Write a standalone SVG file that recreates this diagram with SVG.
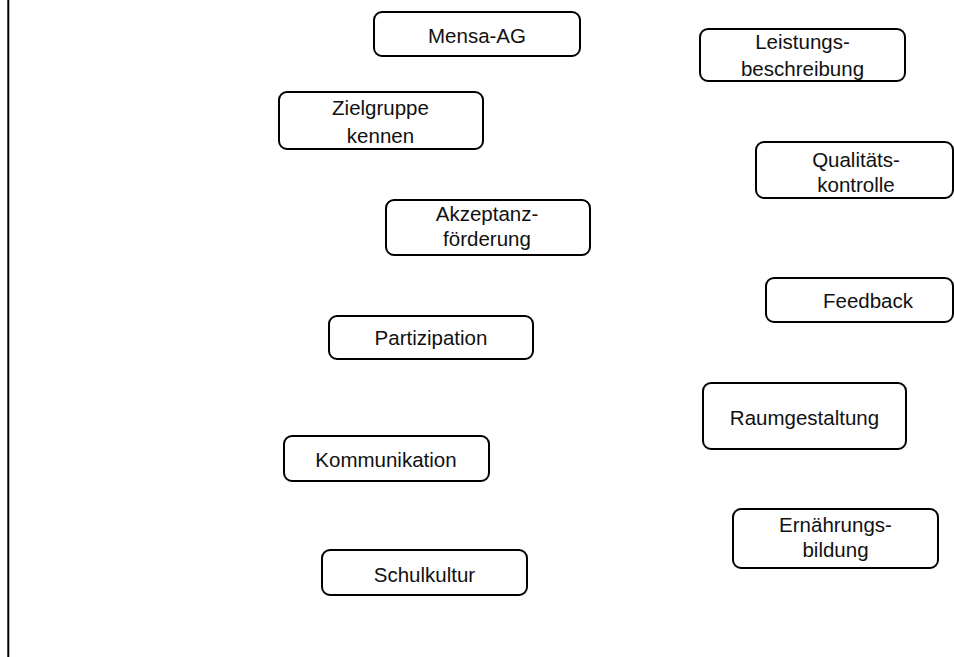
<svg xmlns="http://www.w3.org/2000/svg" width="954" height="657" viewBox="0 0 954 657">
<style>
.box{fill:#fff;stroke:#000;stroke-width:2}
.t{font-family:"Liberation Sans",Arial,sans-serif;font-size:20.5px;fill:#111;text-anchor:middle}
</style>
<rect width="954" height="657" fill="#fff"/>
<line x1="8.3" y1="0" x2="8.3" y2="657" stroke="#000" stroke-width="2"/>
<g id="connectors"></g>
<g id="mensa-ag"><rect class="box" x="374" y="12" width="206" height="44" rx="8"/><text class="t" x="477" y="43">Mensa-AG</text></g>
<g id="leistungsbeschreibung"><rect class="box" x="700" y="29" width="205" height="52" rx="8"/><text class="t" x="802.5" y="49">Leistungs-</text><text class="t" x="802.5" y="76">beschreibung</text></g>
<g id="zielgruppe"><rect class="box" x="279" y="92" width="204" height="57" rx="8"/><text class="t" x="380.5" y="115">Zielgruppe</text><text class="t" x="380.5" y="143">kennen</text></g>
<g id="qualitaetskontrolle"><rect class="box" x="756" y="142" width="197" height="56" rx="8"/><text class="t" x="856" y="167">Qualitäts-</text><text class="t" x="856" y="192">kontrolle</text></g>
<g id="akzeptanz"><rect class="box" x="386" y="200" width="204" height="55" rx="8"/><text class="t" x="487" y="221">Akzeptanz-</text><text class="t" x="487" y="246">förderung</text></g>
<g id="feedback"><rect class="box" x="766" y="278" width="187" height="44" rx="8"/><text class="t" x="868" y="308">Feedback</text></g>
<g id="partizipation"><rect class="box" x="329" y="316" width="204" height="43" rx="8"/><text class="t" x="431" y="345">Partizipation</text></g>
<g id="raumgestaltung"><rect class="box" x="703" y="383" width="203" height="66" rx="8"/><text class="t" x="804.5" y="425">Raumgestaltung</text></g>
<g id="kommunikation"><rect class="box" x="284" y="436" width="205" height="45" rx="8"/><text class="t" x="386" y="467">Kommunikation</text></g>
<g id="ernaehrungsbildung"><rect class="box" x="733" y="509" width="205" height="59" rx="8"/><text class="t" x="835.5" y="532">Ernährungs-</text><text class="t" x="835.5" y="557">bildung</text></g>
<g id="schulkultur"><rect class="box" x="322" y="550" width="205" height="45" rx="8"/><text class="t" x="424.5" y="582">Schulkultur</text></g>
</svg>
